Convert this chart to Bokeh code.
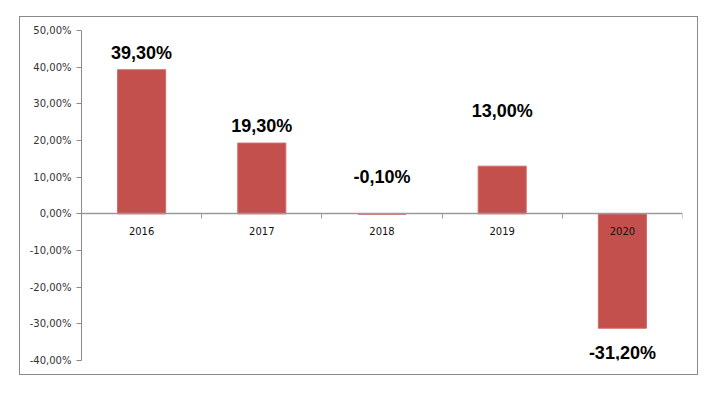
from bokeh.plotting import figure
from bokeh.layouts import column, row
from bokeh.models import ColumnDataSource, FixedTicker, LinearAxis, Range1d, Spacer
from bokeh.core.properties import value
from bokeh.embed import file_html
from bokeh.resources import INLINE

years = ["2016", "2017", "2018", "2019", "2020"]
returns = [39.3, 19.3, -0.1, 13.0, -31.2]
labels = ["39,30%", "19,30%", "-0,10%", "13,00%", "-31,20%"]
label_offsets = [-17, -17, -37, -55, 25]
y_ticks = [-40, -30, -20, -10, 0, 10, 20, 30, 40, 50]

n = len(years)
xs = [i + 0.5 for i in range(n)]
src = ColumnDataSource(dict(x=xs, top=returns, year=years, label=labels, off=label_offsets))

p = figure(width=679, height=359, output_backend="svg", toolbar_location=None,
           x_range=Range1d(0, n), y_range=Range1d(-40, 50),
           x_axis_location=None, min_border_left=61, min_border_right=17,
           min_border_top=13, min_border_bottom=16)
p.styles = {"border": "1px solid #8a8a8a"}
p.outline_line_color = None
p.xgrid.visible = False
p.ygrid.visible = False
p.background_fill_color = "white"
p.border_fill_color = "white"

p.vbar(x="x", top="top", bottom=0, width=0.4, source=src,
       fill_color="#C4504D", line_color="#D46A67", line_width=1)

# category axis line at zero
xax = LinearAxis(fixed_location=0, ticker=FixedTicker(ticks=list(range(n + 1))))
xax.axis_line_color = "#9a9a9a"
xax.axis_line_width = 1.5
xax.major_tick_line_color = "#9a9a9a"
xax.major_tick_in = 0
xax.major_tick_out = 5
xax.minor_tick_line_color = None
xax.major_label_overrides = {i: "" for i in range(n + 1)}
xax.major_label_standoff = 0
p.add_layout(xax, "below")

p.text(x="x", y=0, text="year", source=src, y_offset=17,
       text_align="center", text_baseline="middle",
       text_font=value("DejaVu Sans"), text_font_size="10px", text_color="#111111")

p.text(x="x", y="top", text="label", source=src, y_offset="off",
       text_align="center", text_baseline="middle",
       text_font=value("Liberation Sans"), text_font_size="18px",
       text_font_style="bold", text_color="#000000")

ya = p.yaxis[0]
ya.ticker = FixedTicker(ticks=y_ticks)
ya.major_label_overrides = {t: f"{t:.2f}".replace(".", ",") + "%" for t in y_ticks}
ya.axis_line_color = "#8a8a8a"
ya.major_tick_line_color = "#8a8a8a"
ya.major_tick_in = 0
ya.major_tick_out = 5
ya.minor_tick_line_color = None
ya.major_label_text_font = "DejaVu Sans"
ya.major_label_text_font_size = "10px"
ya.major_label_text_color = "#333333"
ya.major_label_standoff = 5

layout = column(Spacer(height=16), row(Spacer(width=19), p))
open("out.html", "w").write(file_html(layout, INLINE))
